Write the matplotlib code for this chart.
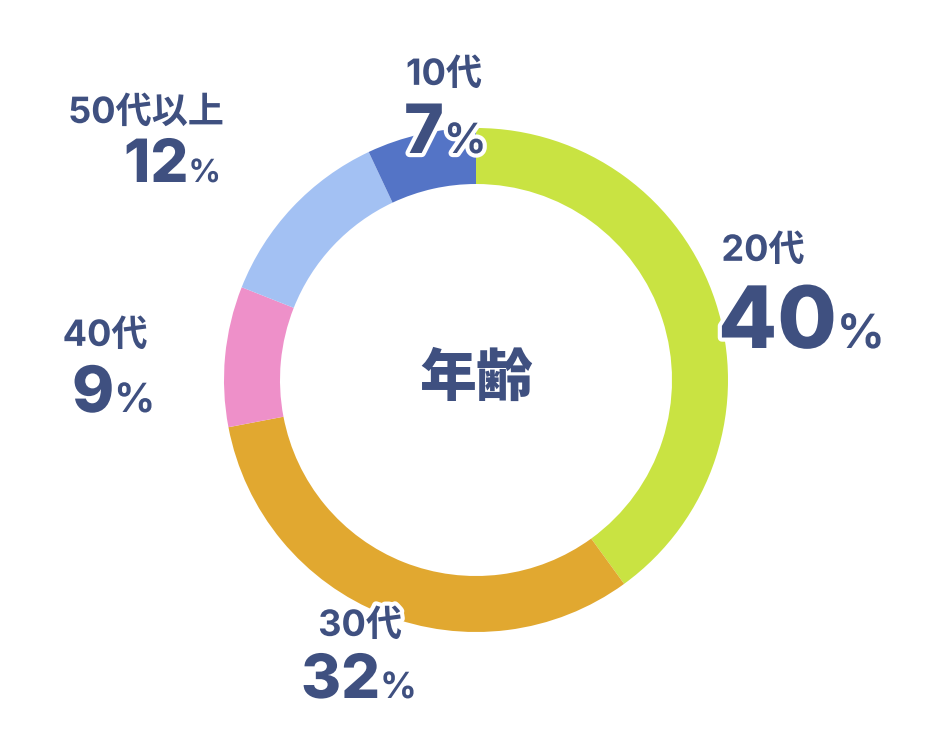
import matplotlib
matplotlib.use("Agg")
import matplotlib.pyplot as plt
import matplotlib.patheffects as pe

# ---- data ----
categories = ["20代", "30代", "40代", "50代以上", "10代"]
values = [40, 32, 9, 12, 7]
colors = ["#c9e342", "#e1a830", "#ee90c9", "#a3c1f3", "#5474c6"]
center_title = "年齢"

# ---- layout (pixel coords, y from top) ----
# label center x, label center y, number left x, number baseline y, number size, % size
layout = {
    "20代":    (763, 251, 718, 348, 62, 34),
    "30代":    (360, 626, 301, 698, 44, 26),
    "40代":    (105, 336, 72, 412, 46, 29),
    "50代以上": (146, 113, 124, 182, 43, 23),
    "10代":    (444, 75, 404, 153, 49, 30),
}

W, H = 952, 750
TEXT = "#3f5080"
CJK = ["Noto Sans CJK JP", "DejaVu Sans"]
MIX = ["Inter", "Noto Sans CJK JP", "DejaVu Sans"]

fig = plt.figure(figsize=(W / 100, H / 100), dpi=100)
ax = fig.add_axes([0, 0, 1, 1])

cx, cy, R, ring = 476, H - 380, 252, 56
ax.pie(values, colors=colors, startangle=90, counterclock=False,
       center=(cx, cy), radius=R, frame=True,
       wedgeprops=dict(width=ring, linewidth=0))
ax.set_xlim(0, W)
ax.set_ylim(0, H)
ax.set_aspect("equal")
ax.axis("off")

stroke = [pe.withStroke(linewidth=6, foreground="white")]

ax.text(cx, H - 379, center_title, ha="center", va="center", fontsize=41,
        fontweight="heavy", color=TEXT, family=CJK)

fig.canvas.draw()
renderer = fig.canvas.get_renderer()
for cat, val in zip(categories, values):
    lx, ly, nx, by, nsz, psz = layout[cat]
    ax.text(lx, H - ly, cat, ha="center", va="center", fontsize=26,
            fontweight=700, color=TEXT, family=MIX, path_effects=stroke, zorder=5)
    t = ax.text(nx, H - by, str(val), ha="left", va="baseline", fontsize=nsz,
                fontweight=800, color=TEXT, family=MIX, path_effects=stroke, zorder=5)
    bb = t.get_window_extent(renderer=renderer)
    right = ax.transData.inverted().transform((bb.x1, bb.y0))[0]
    ax.text(right, H - by, "%", ha="left", va="baseline", fontsize=psz,
            fontweight=700, color=TEXT, family=MIX, path_effects=stroke, zorder=5)

fig.savefig("out.png", dpi=100, facecolor="white")
